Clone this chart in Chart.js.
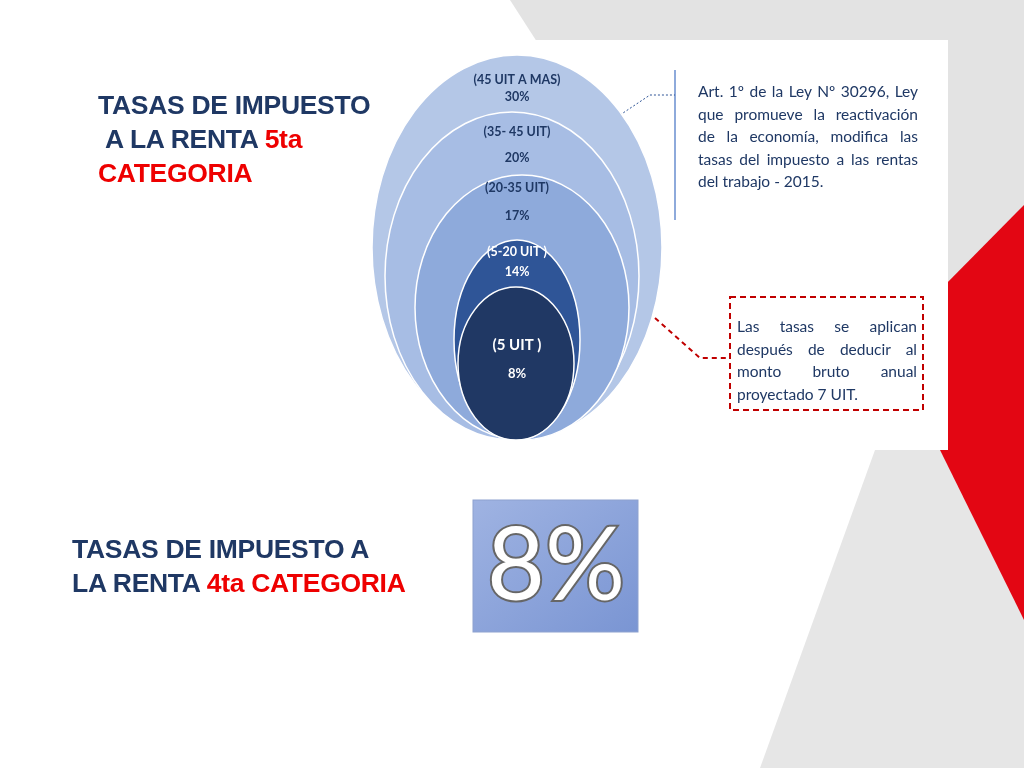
<!DOCTYPE html>
<html><head><meta charset="utf-8">
<script src="https://cdn.jsdelivr.net/npm/chart.js@4"></script>
<style>
body{margin:0;width:1024px;height:768px;overflow:hidden;background:#fff;font-family:"Open Sans","Liberation Sans",sans-serif;position:relative}
.abs{position:absolute}
.t{font-family:"Liberation Sans",sans-serif;font-weight:bold;color:#1f3864;font-size:26.5px;line-height:34px;letter-spacing:-0.3px}
.r{color:#e00}
.note{font-family:"Lato","Liberation Sans",sans-serif;color:#1f3864;font-size:15.5px;line-height:22.5px;text-align:justify}
</style></head><body>
<svg class="abs" style="left:0;top:0" width="1024" height="768">
<polygon points="510,0 1024,0 1024,210 800,450" fill="#e3e3e3"/>
<polygon points="760,768 875,450 1024,440 1024,768" fill="#e6e6e6"/>
<polygon points="940,290 1024,205 1024,620 940,450" fill="#e30613"/>
<rect x="370" y="40" width="578" height="410" fill="#fff"/>
<line x1="675" y1="70" x2="675" y2="220" stroke="#8eaadb" stroke-width="2"/>
<polyline points="620,115 650,95 675,95" fill="none" stroke="#2f5597" stroke-dasharray="2,2"/>
<rect x="730" y="297" width="193" height="113" fill="none" stroke="#c00000" stroke-width="2" stroke-dasharray="6,4"/>
<polyline points="655,318 700,358 730,358" fill="none" stroke="#c00000" stroke-width="2" stroke-dasharray="5,4"/>
<defs><linearGradient id="g" x1="0" y1="0" x2="1" y2="1"><stop offset="0" stop-color="#9fb3e2"/><stop offset="1" stop-color="#7a95d3"/></linearGradient></defs>
<rect x="473" y="500" width="165" height="132" fill="url(#g)" stroke="#8ea2cf"/>
<text x="556" y="600" text-anchor="middle" font-family="Lato, Liberation Sans" font-size="100" fill="#fff" stroke="#666" stroke-width="4" paint-order="stroke">8%</text>
</svg>
<canvas id="c" class="abs" style="left:0;top:0" width="1024" height="768"></canvas>
<div class="abs t" style="left:98px;top:88px">TASAS DE IMPUESTO<br>&nbsp;A LA RENTA <span class="r">5ta</span><br><span class="r">CATEGORIA</span></div>
<div class="abs t" style="left:72px;top:532px">TASAS DE IMPUESTO A<br>LA RENTA <span class="r">4ta CATEGORIA</span></div>
<div class="abs note" style="left:698px;top:80px;width:220px">Art. 1º de la Ley Nº 30296, Ley que promueve la reactivación de la economía, modifica las tasas del impuesto a las rentas del trabajo - 2015.</div>
<div class="abs note" style="left:737px;top:315px;width:180px">Las tasas se aplican después de deducir al monto bruto anual proyectado 7 UIT.</div>
<script>
const tiers = ["(45 UIT A MAS)", "(35- 45 UIT)", "(20-35 UIT)", "(5-20 UIT )", "(5 UIT )"];
const rates = ["30%", "20%", "17%", "14%", "8%"];
const tops = [55, 112, 175, 240, 287];
const bottoms = [440, 440, 440, 440, 440];
const halfWidths = [145, 127, 107, 63, 58];
const centers = [517, 512, 522, 517, 516];
const labelY = [[84, 101], [136, 162], [192, 220], [256, 276], [350, 378]];
const colors = ["#b4c7e7", "#a7bde4", "#8eaadb", "#2f5597", "#203864"];
const textColors = ["#1f3864", "#1f3864", "#1f3864", "#fff", "#fff"];

const ellipses = {
  id: "ellipses",
  afterDatasetsDraw(chart) {
    const { ctx, scales: { x, y } } = chart;
    ctx.save();
    tiers.forEach((t, i) => {
      const cx = x.getPixelForValue(centers[i]);
      const t0 = y.getPixelForValue(tops[i]), b0 = y.getPixelForValue(bottoms[i]);
      const rx = x.getPixelForValue(centers[i] + halfWidths[i]) - cx;
      ctx.beginPath();
      ctx.ellipse(cx, (t0 + b0) / 2, rx, (b0 - t0) / 2, 0, 0, Math.PI * 2);
      ctx.fillStyle = colors[i];
      ctx.fill();
      ctx.strokeStyle = "#fff";
      ctx.lineWidth = 1.5;
      ctx.stroke();
    });
    tiers.forEach((t, i) => {
      ctx.fillStyle = textColors[i];
      ctx.textAlign = "center";
      ctx.font = "bold " + (i === 4 ? 15 : 12.5) + "px Lato, 'Liberation Sans'";
      ctx.fillText(t, x.getPixelForValue(517), y.getPixelForValue(labelY[i][0]));
      ctx.font = "bold " + (i === 4 ? 13 : 12.5) + "px Lato, 'Liberation Sans'";
      ctx.fillText(rates[i], x.getPixelForValue(517), y.getPixelForValue(labelY[i][1]));
    });
    ctx.restore();
  }
};

new Chart(document.getElementById("c"), {
  type: "scatter",
  data: { datasets: [{ data: [] }] },
  options: {
    responsive: false,
    animation: false,
    layout: { padding: 0 },
    plugins: { legend: { display: false }, tooltip: { enabled: false } },
    scales: {
      x: { type: "linear", min: 0, max: 1024, display: false },
      y: { type: "linear", min: 0, max: 768, reverse: true, display: false }
    }
  },
  plugins: [ellipses]
});
</script>
</body></html>
